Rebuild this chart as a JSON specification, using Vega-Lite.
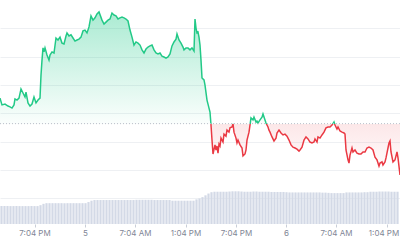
{
  "$schema": "https://vega.github.io/schema/vega-lite/v6.json",
  "width": 400,
  "height": 224,
  "autosize": {"type": "none"},
  "padding": {"top": 0, "left": 0, "right": 0, "bottom": 16},
  "background": "white",
  "config": {"view": {"stroke": null}, "font": "Inter"},
  "datasets": {
    "price": [
      {"t":0,"p":3.54},{"t":0.24,"p":3.30},{"t":0.6,"p":3.33},{"t":0.96,"p":3.26},{"t":1.2,"p":3.23},{"t":1.44,"p":3.19},{"t":1.68,"p":3.30},{"t":1.8,"p":3.51},{"t":2.04,"p":3.47},{"t":2.28,"p":3.54},
      {"t":2.52,"p":3.86},{"t":2.76,"p":3.72},{"t":3.0,"p":3.58},{"t":3.12,"p":3.75},{"t":3.36,"p":3.37},{"t":3.6,"p":3.26},{"t":3.84,"p":3.33},{"t":4.08,"p":3.58},{"t":4.32,"p":3.37},{"t":4.56,"p":3.47},
      {"t":4.8,"p":3.54},{"t":4.92,"p":4.35},{"t":5.04,"p":4.88},{"t":5.16,"p":5.31},{"t":5.28,"p":5.17},{"t":5.4,"p":5.31},{"t":5.64,"p":5.06},{"t":5.88,"p":4.88},{"t":6.0,"p":5.06},{"t":6.24,"p":5.17},
      {"t":6.48,"p":5.13},{"t":6.72,"p":5.66},{"t":6.96,"p":5.59},{"t":7.2,"p":5.69},{"t":7.44,"p":5.48},{"t":7.68,"p":5.45},{"t":7.92,"p":5.73},{"t":8.04,"p":5.84},{"t":8.28,"p":5.73},{"t":8.52,"p":5.77},
      {"t":8.76,"p":5.66},{"t":9.0,"p":5.55},{"t":9.24,"p":5.59},{"t":9.48,"p":5.62},{"t":9.72,"p":5.69},{"t":9.96,"p":5.91},{"t":10.2,"p":5.94},{"t":10.44,"p":5.84},{"t":10.68,"p":6.05},{"t":10.92,"p":6.44},
      {"t":11.16,"p":6.29},{"t":11.4,"p":6.37},{"t":11.64,"p":6.51},{"t":11.88,"p":6.58},{"t":12.24,"p":6.29},{"t":12.48,"p":6.15},{"t":12.72,"p":6.22},{"t":12.96,"p":6.29},{"t":13.2,"p":6.33},{"t":13.44,"p":6.54},
      {"t":13.68,"p":6.47},{"t":13.92,"p":6.44},{"t":14.16,"p":6.33},{"t":14.4,"p":6.37},{"t":14.64,"p":6.40},{"t":14.88,"p":6.37},{"t":15.12,"p":6.33},{"t":15.36,"p":6.26},{"t":15.6,"p":5.94},{"t":15.84,"p":5.69},
      {"t":16.08,"p":5.41},{"t":16.32,"p":5.52},{"t":16.56,"p":5.48},{"t":16.8,"p":5.41},{"t":17.04,"p":5.24},{"t":17.28,"p":5.13},{"t":17.52,"p":5.27},{"t":17.76,"p":5.34},{"t":18.0,"p":5.38},{"t":18.24,"p":5.41},
      {"t":18.48,"p":5.24},{"t":18.72,"p":5.13},{"t":18.96,"p":5.10},{"t":19.2,"p":5.13},{"t":19.44,"p":5.02},{"t":19.68,"p":4.99},{"t":19.92,"p":4.95},{"t":20.16,"p":4.99},{"t":20.4,"p":5.10},{"t":20.64,"p":5.38},
      {"t":20.88,"p":5.52},{"t":21.12,"p":5.62},{"t":21.24,"p":5.80},{"t":21.48,"p":5.59},{"t":21.72,"p":5.48},{"t":21.96,"p":5.34},{"t":22.08,"p":5.24},{"t":22.32,"p":5.31},{"t":22.56,"p":5.31},{"t":22.8,"p":5.24},
      {"t":23.04,"p":5.31},{"t":23.28,"p":5.20},{"t":23.4,"p":6.33},{"t":23.52,"p":6.01},{"t":23.64,"p":5.84},{"t":23.76,"p":5.87},{"t":23.88,"p":5.69},{"t":24.0,"p":5.41},{"t":24.12,"p":4.88},{"t":24.24,"p":4.25},
      {"t":24.48,"p":4.18},{"t":24.6,"p":4.00},{"t":24.84,"p":3.47},{"t":24.96,"p":3.33},{"t":25.2,"p":3.05},{"t":25.32,"p":2.59},{"t":25.44,"p":2.06},{"t":25.56,"p":1.57},{"t":25.8,"p":1.89},{"t":25.92,"p":1.71},
      {"t":26.04,"p":1.85},{"t":26.16,"p":1.60},{"t":26.28,"p":1.92},{"t":26.4,"p":1.85},{"t":26.52,"p":2.13},{"t":26.76,"p":1.99},{"t":26.88,"p":2.27},{"t":27.12,"p":2.20},{"t":27.24,"p":2.41},{"t":27.48,"p":2.34},
      {"t":27.6,"p":2.49},{"t":27.84,"p":2.52},{"t":27.96,"p":2.63},{"t":28.08,"p":2.34},{"t":28.32,"p":2.13},{"t":28.44,"p":1.96},{"t":28.56,"p":2.06},{"t":28.8,"p":1.89},{"t":29.04,"p":1.78},{"t":29.16,"p":1.50},
      {"t":29.4,"p":1.57},{"t":29.52,"p":1.71},{"t":29.64,"p":2.06},{"t":29.88,"p":2.34},{"t":30.0,"p":2.59},{"t":30.12,"p":2.84},{"t":30.36,"p":2.77},{"t":30.48,"p":2.87},{"t":30.72,"p":2.70},{"t":30.84,"p":2.73},
      {"t":30.96,"p":2.66},{"t":31.2,"p":2.77},{"t":31.44,"p":2.87},{"t":31.56,"p":2.98},{"t":31.8,"p":2.77},{"t":31.92,"p":2.66},{"t":32.16,"p":2.52},{"t":32.28,"p":2.41},{"t":32.4,"p":2.34},{"t":32.64,"p":2.17},
      {"t":32.88,"p":2.03},{"t":33.12,"p":2.13},{"t":33.24,"p":2.31},{"t":33.48,"p":2.41},{"t":33.72,"p":2.31},{"t":33.96,"p":2.24},{"t":34.2,"p":2.27},{"t":34.44,"p":2.20},{"t":34.68,"p":2.06},{"t":34.92,"p":1.89},
      {"t":35.16,"p":1.81},{"t":35.4,"p":1.78},{"t":35.64,"p":1.74},{"t":35.88,"p":1.67},{"t":36.0,"p":1.71},{"t":36.24,"p":1.81},{"t":36.48,"p":2.06},{"t":36.72,"p":2.17},{"t":36.96,"p":2.10},{"t":37.2,"p":1.99},
      {"t":37.44,"p":1.96},{"t":37.68,"p":1.99},{"t":37.8,"p":2.10},{"t":38.04,"p":1.99},{"t":38.16,"p":2.17},{"t":38.4,"p":2.13},{"t":38.64,"p":2.24},{"t":38.88,"p":2.34},{"t":39.12,"p":2.49},{"t":39.36,"p":2.52},
      {"t":39.6,"p":2.52},{"t":39.84,"p":2.59},{"t":40.08,"p":2.70},{"t":40.2,"p":2.59},{"t":40.44,"p":2.45},{"t":40.56,"p":2.52},{"t":40.8,"p":2.38},{"t":41.04,"p":2.34},{"t":41.28,"p":2.31},{"t":41.4,"p":2.27},
      {"t":41.52,"p":1.71},{"t":41.76,"p":1.36},{"t":41.88,"p":1.25},{"t":42.0,"p":1.53},{"t":42.24,"p":1.78},{"t":42.36,"p":1.64},{"t":42.6,"p":1.71},{"t":42.84,"p":1.60},{"t":43.08,"p":1.57},{"t":43.32,"p":1.57},
      {"t":43.56,"p":1.64},{"t":43.8,"p":1.64},{"t":44.04,"p":1.78},{"t":44.28,"p":1.81},{"t":44.52,"p":1.78},{"t":44.76,"p":1.71},{"t":45.0,"p":1.46},{"t":45.24,"p":1.36},{"t":45.48,"p":1.14},{"t":45.6,"p":1.25},
      {"t":45.84,"p":1.29},{"t":45.96,"p":1.18},{"t":46.2,"p":1.29},{"t":46.32,"p":1.43},{"t":46.56,"p":1.78},{"t":46.68,"p":1.96},{"t":46.8,"p":2.03},{"t":46.92,"p":1.64},{"t":47.16,"p":1.29},{"t":47.4,"p":1.36},
      {"t":47.64,"p":1.64},{"t":47.76,"p":1.43},{"t":48.0,"p":0.83}
    ],
    "volume": [
      {"t":0.18,"v":8.0},{"t":0.54,"v":8.0},{"t":0.9,"v":8.0},{"t":1.26,"v":8.0},{"t":1.62,"v":8.0},{"t":1.98,"v":8.0},{"t":2.34,"v":8.0},{"t":2.7,"v":8.0},{"t":3.06,"v":8.0},{"t":3.42,"v":8.0},
      {"t":3.78,"v":8.0},{"t":4.14,"v":8.0},{"t":4.5,"v":8.0},{"t":4.86,"v":8.4},{"t":5.22,"v":9.0},{"t":5.58,"v":9.3},{"t":5.94,"v":9.3},{"t":6.3,"v":9.3},{"t":6.66,"v":9.3},{"t":7.02,"v":9.3},
      {"t":7.38,"v":9.3},{"t":7.74,"v":9.3},{"t":8.1,"v":9.3},{"t":8.46,"v":9.3},{"t":8.82,"v":9.3},{"t":9.18,"v":9.3},{"t":9.54,"v":9.3},{"t":9.9,"v":9.3},{"t":10.26,"v":9.3},{"t":10.62,"v":9.8},
      {"t":10.98,"v":10.4},{"t":11.34,"v":10.7},{"t":11.7,"v":10.7},{"t":12.06,"v":10.7},{"t":12.42,"v":10.7},{"t":12.78,"v":10.7},{"t":13.14,"v":10.7},{"t":13.5,"v":10.7},{"t":13.86,"v":10.7},{"t":14.22,"v":10.7},
      {"t":14.58,"v":10.7},{"t":14.94,"v":10.7},{"t":15.3,"v":10.7},{"t":15.66,"v":10.7},{"t":16.02,"v":10.7},{"t":16.38,"v":10.8},{"t":16.74,"v":10.8},{"t":17.1,"v":10.8},{"t":17.46,"v":10.8},{"t":17.82,"v":10.8},
      {"t":18.18,"v":10.8},{"t":18.54,"v":10.7},{"t":18.9,"v":10.7},{"t":19.26,"v":10.7},{"t":19.62,"v":10.7},{"t":19.98,"v":10.7},{"t":20.34,"v":10.7},{"t":20.7,"v":10.4},{"t":21.06,"v":10.4},{"t":21.42,"v":10.4},
      {"t":21.78,"v":10.4},{"t":22.14,"v":10.4},{"t":22.5,"v":10.4},{"t":22.86,"v":10.4},{"t":23.22,"v":10.4},{"t":23.58,"v":11.0},{"t":23.94,"v":11.4},{"t":24.3,"v":12.0},{"t":24.66,"v":12.8},{"t":25.02,"v":13.6},
      {"t":25.38,"v":14.2},{"t":25.74,"v":14.4},{"t":26.1,"v":14.4},{"t":26.46,"v":14.4},{"t":26.82,"v":14.4},{"t":27.18,"v":14.4},{"t":27.54,"v":14.5},{"t":27.9,"v":14.6},{"t":28.26,"v":14.6},{"t":28.62,"v":14.6},
      {"t":28.98,"v":14.5},{"t":29.34,"v":14.4},{"t":29.7,"v":14.4},{"t":30.06,"v":14.4},{"t":30.42,"v":14.5},{"t":30.78,"v":14.5},{"t":31.14,"v":14.4},{"t":31.5,"v":14.4},{"t":31.86,"v":14.4},{"t":32.22,"v":14.4},
      {"t":32.58,"v":14.3},{"t":32.94,"v":14.3},{"t":33.3,"v":14.3},{"t":33.66,"v":14.3},{"t":34.02,"v":14.3},{"t":34.38,"v":14.2},{"t":34.74,"v":14.1},{"t":35.1,"v":14.1},{"t":35.46,"v":14.1},{"t":35.82,"v":14.1},
      {"t":36.18,"v":14.1},{"t":36.54,"v":14.1},{"t":36.9,"v":14.1},{"t":37.26,"v":14.1},{"t":37.62,"v":14.1},{"t":37.98,"v":14.1},{"t":38.34,"v":14.1},{"t":38.7,"v":14.0},{"t":39.06,"v":14.0},{"t":39.42,"v":13.9},
      {"t":39.78,"v":13.8},{"t":40.14,"v":13.8},{"t":40.5,"v":13.8},{"t":40.86,"v":13.8},{"t":41.22,"v":13.8},{"t":41.58,"v":14.1},{"t":41.94,"v":14.1},{"t":42.3,"v":14.1},{"t":42.66,"v":14.1},{"t":43.02,"v":14.1},
      {"t":43.38,"v":14.1},{"t":43.74,"v":14.2},{"t":44.1,"v":14.2},{"t":44.46,"v":14.4},{"t":44.82,"v":14.4},{"t":45.18,"v":14.4},{"t":45.54,"v":14.5},{"t":45.9,"v":14.5},{"t":46.26,"v":14.5},{"t":46.62,"v":14.5},
      {"t":46.98,"v":14.4},{"t":47.34,"v":14.4},{"t":47.7,"v":14.4}
    ]
  },
  "encoding": {
    "x": {
      "field": "t", "type": "quantitative",
      "scale": {"domain": [0, 48], "nice": false, "zero": false, "padding": 0},
      "axis": {
        "values": [4.14, 10.2, 16.2, 22.26, 28.32, 34.32, 40.32, 46.38],
        "labelExpr": "datum.value < 7 ? '7:04 PM' : datum.value < 13 ? '5' : datum.value < 19 ? '7:04 AM' : datum.value < 25 ? '1:04 PM' : datum.value < 31 ? '7:04 PM' : datum.value < 37 ? '6' : datum.value < 43 ? '7:04 AM' : '1:04 PM'",
        "labelOffset": {"expr": "datum.value > 45 ? -3 : 0"},
        "domain": false, "grid": false, "title": null,
        "tickSize": 3, "tickColor": "#c9ced8", "tickWidth": 1,
        "labelFontSize": 8, "labelColor": "#7f8696", "labelPadding": 2,
        "labelOverlap": false, "labelFlush": false, "labelBound": false
      }
    }
  },
  "layer": [
    {
      "data": {"name": "volume"},
      "mark": {"type": "bar", "width": 2.2, "color": "#d3d9e6", "opacity": 1},
      "encoding": {
        "y": {"field": "v", "type": "quantitative", "scale": {"domain": [0, 100], "nice": false}, "axis": null}
      }
    },
    {
      "data": {"name": "price"},
      "mark": {
        "type": "area",
        "interpolate": "linear",
        "fill": {
          "gradient": "linear", "x1": 0, "y1": 0, "x2": 0, "y2": 1,
          "stops": [
            {"offset": 0, "color": "rgba(22,199,132,0.36)"},
            {"offset": 0.684, "color": "rgba(22,199,132,0.02)"},
            {"offset": 0.686, "color": "rgba(234,57,67,0.12)"},
            {"offset": 1, "color": "rgba(234,57,67,0.0)"}
          ]
        }
      },
      "encoding": {
        "y": {
          "field": "p", "type": "quantitative",
          "scale": {"domain": [-0.9, 7], "nice": false, "zero": false},
          "axis": {
            "values": [0, 1, 2, 3, 4, 5, 6],
            "labels": false, "ticks": false, "domain": false, "title": null,
            "grid": true, "gridColor": "#eef0f3", "gridWidth": 1
          }
        },
        "y2": {"datum": 2.64}
      }
    },
    {
      "data": {"name": "price"},
      "mark": {
        "type": "line",
        "interpolate": "linear",
        "strokeWidth": 1.5,
        "stroke": {
          "gradient": "linear", "x1": 0, "y1": 0, "x2": 0, "y2": 1,
          "stops": [
            {"offset": 0, "color": "#22c987"},
            {"offset": 0.685, "color": "#22c987"},
            {"offset": 0.685, "color": "#ea3943"},
            {"offset": 1, "color": "#ea3943"}
          ]
        }
      },
      "encoding": {
        "y": {"field": "p", "type": "quantitative", "scale": {"domain": [-0.9, 7], "nice": false, "zero": false}, "axis": null}
      }
    },
    {
      "data": {"values": [{"base": 2.64}]},
      "mark": {"type": "rule", "color": "#b9bec8", "strokeDash": [1, 2], "strokeWidth": 1},
      "encoding": {
        "x": null,
        "y": {"field": "base", "type": "quantitative", "scale": {"domain": [-0.9, 7], "nice": false, "zero": false}, "axis": null}
      }
    }
  ],
  "resolve": {"scale": {"y": "independent"}}
}
